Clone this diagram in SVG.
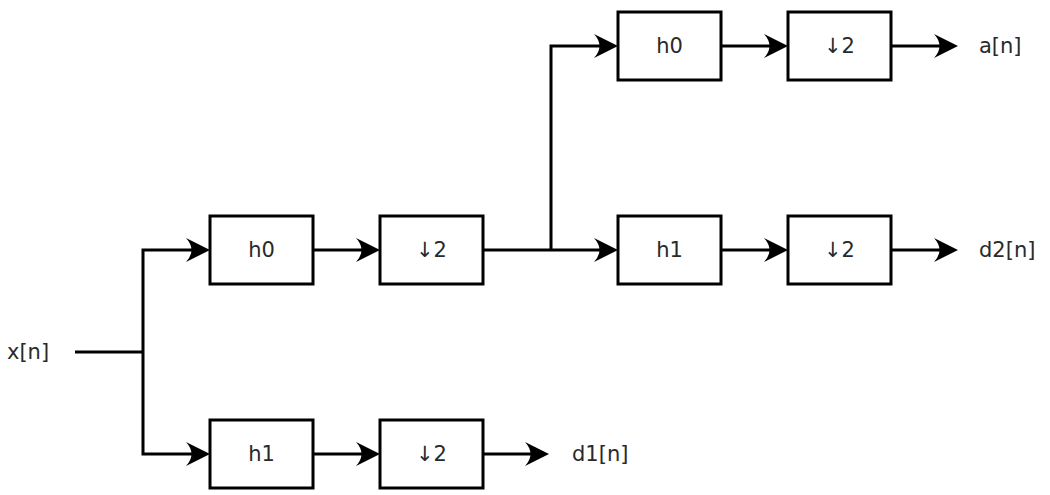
<svg xmlns="http://www.w3.org/2000/svg" width="1050" height="495" viewBox="0 0 1050 495">
  <defs>
    <style>
      .box { fill: #ffffff; stroke: #000000; stroke-width: 3; }
      .lbl { font-family: "DejaVu Sans", "Liberation Sans", sans-serif; font-size: 21px; fill: #2a2a2a; }
      .c { text-anchor: middle; }
      .wire { fill: none; stroke: #000000; stroke-width: 3; stroke-linejoin: miter; }
    </style>
    <marker id="arr" markerUnits="userSpaceOnUse" viewBox="-17 -13 28 26" markerWidth="28" markerHeight="26" refX="0" refY="0" orient="auto">
      <path d="M8,0 L-16,-12 Q-5,0 -16,12 Z" fill="#000000"/>
    </marker>
  </defs>
  <rect width="1050" height="495" fill="#ffffff"/>

  <g id="connectors">
    <path class="wire" d="M75,352 H143"/>
    <path class="wire" d="M143,352 V250 H202" marker-end="url(#arr)"/>
    <path class="wire" d="M143,352 V454 H202" marker-end="url(#arr)"/>
    <path class="wire" d="M313,250 H372" marker-end="url(#arr)"/>
    <path class="wire" d="M483,250 H610" marker-end="url(#arr)"/>
    <path class="wire" d="M551,250 V46 H610" marker-end="url(#arr)"/>
    <path class="wire" d="M721,46 H780" marker-end="url(#arr)"/>
    <path class="wire" d="M891,46 H950" marker-end="url(#arr)"/>
    <path class="wire" d="M721,250 H780" marker-end="url(#arr)"/>
    <path class="wire" d="M891,250 H950" marker-end="url(#arr)"/>
    <path class="wire" d="M313,454 H372" marker-end="url(#arr)"/>
    <path class="wire" d="M483,454 H541" marker-end="url(#arr)"/>
  </g>

  <g id="input">
    <text class="lbl" x="7" y="359">x[n]</text>
  </g>

  <g id="h0_l1">
    <rect class="box" x="210" y="216" width="103" height="68"/>
    <text class="lbl c" x="261.5" y="257">h0</text>
  </g>
  <g id="down_l1a">
    <rect class="box" x="380" y="216" width="103" height="68"/>
    <text class="lbl c" x="431.5" y="257">↓2</text>
  </g>
  <g id="h1_l1">
    <rect class="box" x="210" y="420" width="103" height="68"/>
    <text class="lbl c" x="261.5" y="461">h1</text>
  </g>
  <g id="down_l1b">
    <rect class="box" x="380" y="420" width="103" height="68"/>
    <text class="lbl c" x="431.5" y="461">↓2</text>
  </g>
  <g id="out_d1">
    <text class="lbl" x="572" y="461">d1[n]</text>
  </g>

  <g id="h0_l2">
    <rect class="box" x="618" y="12" width="103" height="68"/>
    <text class="lbl c" x="669.5" y="53">h0</text>
  </g>
  <g id="down_l2a">
    <rect class="box" x="788" y="12" width="103" height="68"/>
    <text class="lbl c" x="839.5" y="53">↓2</text>
  </g>
  <g id="out_a">
    <text class="lbl" x="979" y="53">a[n]</text>
  </g>

  <g id="h1_l2">
    <rect class="box" x="618" y="216" width="103" height="68"/>
    <text class="lbl c" x="669.5" y="257">h1</text>
  </g>
  <g id="down_l2b">
    <rect class="box" x="788" y="216" width="103" height="68"/>
    <text class="lbl c" x="839.5" y="257">↓2</text>
  </g>
  <g id="out_d2">
    <text class="lbl" x="979" y="257">d2[n]</text>
  </g>
</svg>
